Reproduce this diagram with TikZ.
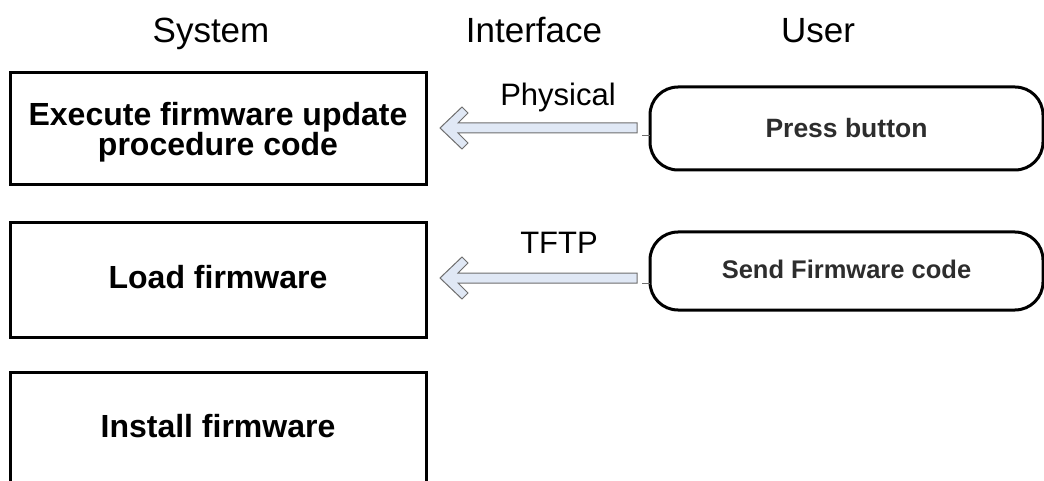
\documentclass[tikz,border=0pt]{standalone}
\usepackage{fontspec}
\setmainfont{Liberation Sans}
\usetikzlibrary{calc}
\definecolor{arrowfill}{RGB}{224,232,245}
\definecolor{arrowline}{RGB}{110,110,110}
\definecolor{usertext}{RGB}{45,45,45}
\begin{document}
\begin{tikzpicture}[x=1pt,y=-1pt,
  every node/.style={outer sep=0pt},
  header/.style={font=\fontsize{35}{42}\selectfont, anchor=base},
  linklabel/.style={font=\fontsize{31}{36}\selectfont, anchor=base},
  sysbox/.style={draw, line width=3pt, minimum width=416pt, align=center,
    inner sep=0pt, font=\bfseries\fontsize{32}{30}\selectfont},
  userbox/.style={draw, line width=3pt, rounded corners=28pt, minimum width=393pt,
    inner sep=0pt, text=usertext},
  blockarrow/.style={draw=arrowline, fill=arrowfill, line width=1pt, line join=miter},
  stub/.style={draw=arrowline, line width=1pt},
]
\useasboundingbox (0,0) rectangle (1044,481);
\clip (0,0) rectangle (1044,481);

% column headers
\node[header] (hsys) at (211,43) {System};
\node[header] (hif)  at (534,43) {Interface};
\node[header] (husr) at (818,43) {User};

% system steps
\node[sysbox, minimum height=112pt, text depth=0pt] (exec) at (218,129)
  {Execute firmware update\\procedure code};
\node[sysbox, minimum height=114pt, text height=23pt, text depth=7pt] (load) at (218,280)
  {Load firmware};
\node[sysbox, minimum height=114pt, text height=23pt, text depth=7pt] (install) at (218,429)
  {Install firmware};

% user actions
\node[userbox, minimum height=83pt, font=\bfseries\fontsize{26.5}{30}\selectfont]
  (press) at (846.5,128.5) {Press button};
\node[userbox, minimum height=78pt, font=\bfseries\fontsize{25.5}{30}\selectfont,
  text height=18pt, text depth=3pt]
  (send) at (846.5,271) {Send Firmware code};

% interface arrows (user -> system)
\draw[blockarrow] let \p1=($(exec.east)+(14,-1)$), \p2=($(press.west)+(-13,0)$) in
  (\x1,\y1) -- (\x1+22pt,\y1+21pt) -- (\x1+28pt,\y1+15pt) -- (\x1+18pt,\y1+5pt)
  -- (\x2,\y1+5pt) -- (\x2,\y1-5pt) -- (\x1+18pt,\y1-5pt) -- (\x1+28pt,\y1-15pt)
  -- (\x1+22pt,\y1-21pt) -- cycle;
\draw[blockarrow] let \p1=($(load.east)+(14,-2)$), \p2=($(send.west)+(-13,0)$) in
  (\x1,\y1) -- (\x1+22pt,\y1+21pt) -- (\x1+28pt,\y1+15pt) -- (\x1+18pt,\y1+5pt)
  -- (\x2,\y1+5pt) -- (\x2,\y1-5pt) -- (\x1+18pt,\y1-5pt) -- (\x1+28pt,\y1-15pt)
  -- (\x1+22pt,\y1-21pt) -- cycle;

% small connection stubs at the user boxes
\draw[stub] ($(press.west)+(-8,7)$) -- (press.west |- {$(press.west)+(0,7)$});
\draw[stub] ($(send.west)+(-8,12)$) -- (send.west |- {$(send.west)+(0,12)$});

% interface labels
\node[linklabel] (lphys) at (558,106) {Physical};
\node[linklabel] (ltftp) at (559,253) {TFTP};
\end{tikzpicture}
\end{document}
